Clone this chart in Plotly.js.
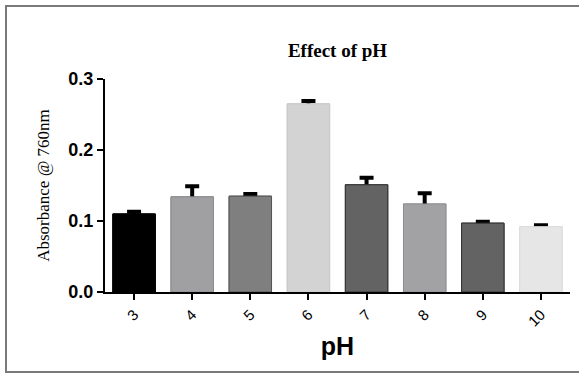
<!DOCTYPE html>
<html>
<head>
<meta charset="utf-8">
<script src="https://cdn.plot.ly/plotly-3.0.1.min.js"></script>
<style>
  html, body { margin: 0; padding: 0; background: #fff; }
  #wrap { position: relative; width: 579px; height: 373px; overflow: hidden; }
  #chart { position: absolute; left: 0; top: 0; width: 579px; height: 373px; }
  #frame { position: absolute; left: 5px; top: 5px; width: 590px; height: 364px;
           border-top: 2px solid #7a7a7a; border-left: 2px solid #7a7a7a; border-bottom: 2px solid #7a7a7a;
           pointer-events: none; }
</style>
</head>
<body>
<div id="wrap">
  <div id="chart"></div>
  <div id="frame"></div>
</div>
<script>
// Data
const phLabels = ["3", "4", "5", "6", "7", "8", "9", "10"];
const absorbance = [0.110, 0.134, 0.135, 0.265, 0.151, 0.124, 0.097, 0.092];
const errorSEM = [0.003, 0.015, 0.003, 0.004, 0.010, 0.015, 0.002, 0.002];
const barColors = ["#000000", "#a0a0a3", "#7f7f7f", "#d3d3d3", "#636363", "#a2a2a4", "#636363", "#e6e6e6"];
const barEdges  = ["#000000", "#8a8a8d", "#555555", "#c8c8c8", "#333333", "#8f8f91", "#333333", "#dcdcdc"];
const yTicks = [0.0, 0.1, 0.2, 0.3];
const yTickText = ["0.0", "0.1", "0.2", "0.3"];

// Bars with symmetric SEM error bars (drawn first)
const barsWithError = {
  type: "bar",
  x: phLabels,
  y: absorbance,
  marker: { color: barColors, line: { color: barEdges, width: 1 } },
  error_y: { type: "data", array: errorSEM, visible: true, color: "#000000", thickness: 4, width: 7 },
  hoverinfo: "x+y"
};
// Same bars drawn on top so only the upper half of each error bar shows (GraphPad style)
const barsCover = {
  type: "bar",
  x: phLabels,
  y: absorbance,
  marker: { color: barColors, line: { color: barEdges, width: 1 } },
  hoverinfo: "skip"
};

const layout = {
  width: 579, height: 373,
  margin: { l: 105, r: 9, t: 79, b: 81, pad: 0 },
  paper_bgcolor: "#ffffff", plot_bgcolor: "#ffffff",
  barmode: "overlay",
  bargap: 0.27,
  showlegend: false,
  title: {
    text: "Effect of pH",
    font: { family: "Liberation Serif, Times New Roman, serif", size: 19, color: "#000", weight: "bold" },
    x: 0.5, xref: "paper", xanchor: "center",
    y: 1 - 50 / 373, yref: "container", yanchor: "middle"
  },
  xaxis: {
    type: "category",
    range: [-0.5, 7.5],
    showline: true, linecolor: "#000", linewidth: 2,
    ticks: "outside", ticklen: 6, tickwidth: 2, tickcolor: "#000",
    tickangle: -45,
    tickfont: { family: "Liberation Sans, Arial, sans-serif", size: 15, color: "#000" },
    showgrid: false, zeroline: false,
    title: { text: "pH", font: { family: "Liberation Sans, Arial, sans-serif", size: 25, color: "#000", weight: "bold" }, standoff: 9 },
    automargin: false,
    fixedrange: true
  },
  yaxis: {
    range: [0, 0.3],
    tickvals: yTicks, ticktext: yTickText,
    showline: true, linecolor: "#000", linewidth: 2,
    ticks: "outside", ticklen: 6, tickwidth: 2, tickcolor: "#000",
    tickfont: { family: "Liberation Sans, Arial, sans-serif", size: 18, color: "#000", weight: "bold" },
    showgrid: false, zeroline: false,
    title: { text: "Absorbance @ 760nm", font: { family: "Liberation Serif, Times New Roman, serif", size: 17, color: "#000" }, standoff: 14 },
    automargin: false,
    fixedrange: true
  }
};

Plotly.newPlot("chart", [barsWithError, barsCover], layout, { displayModeBar: false, staticPlot: true });
</script>
</body>
</html>
